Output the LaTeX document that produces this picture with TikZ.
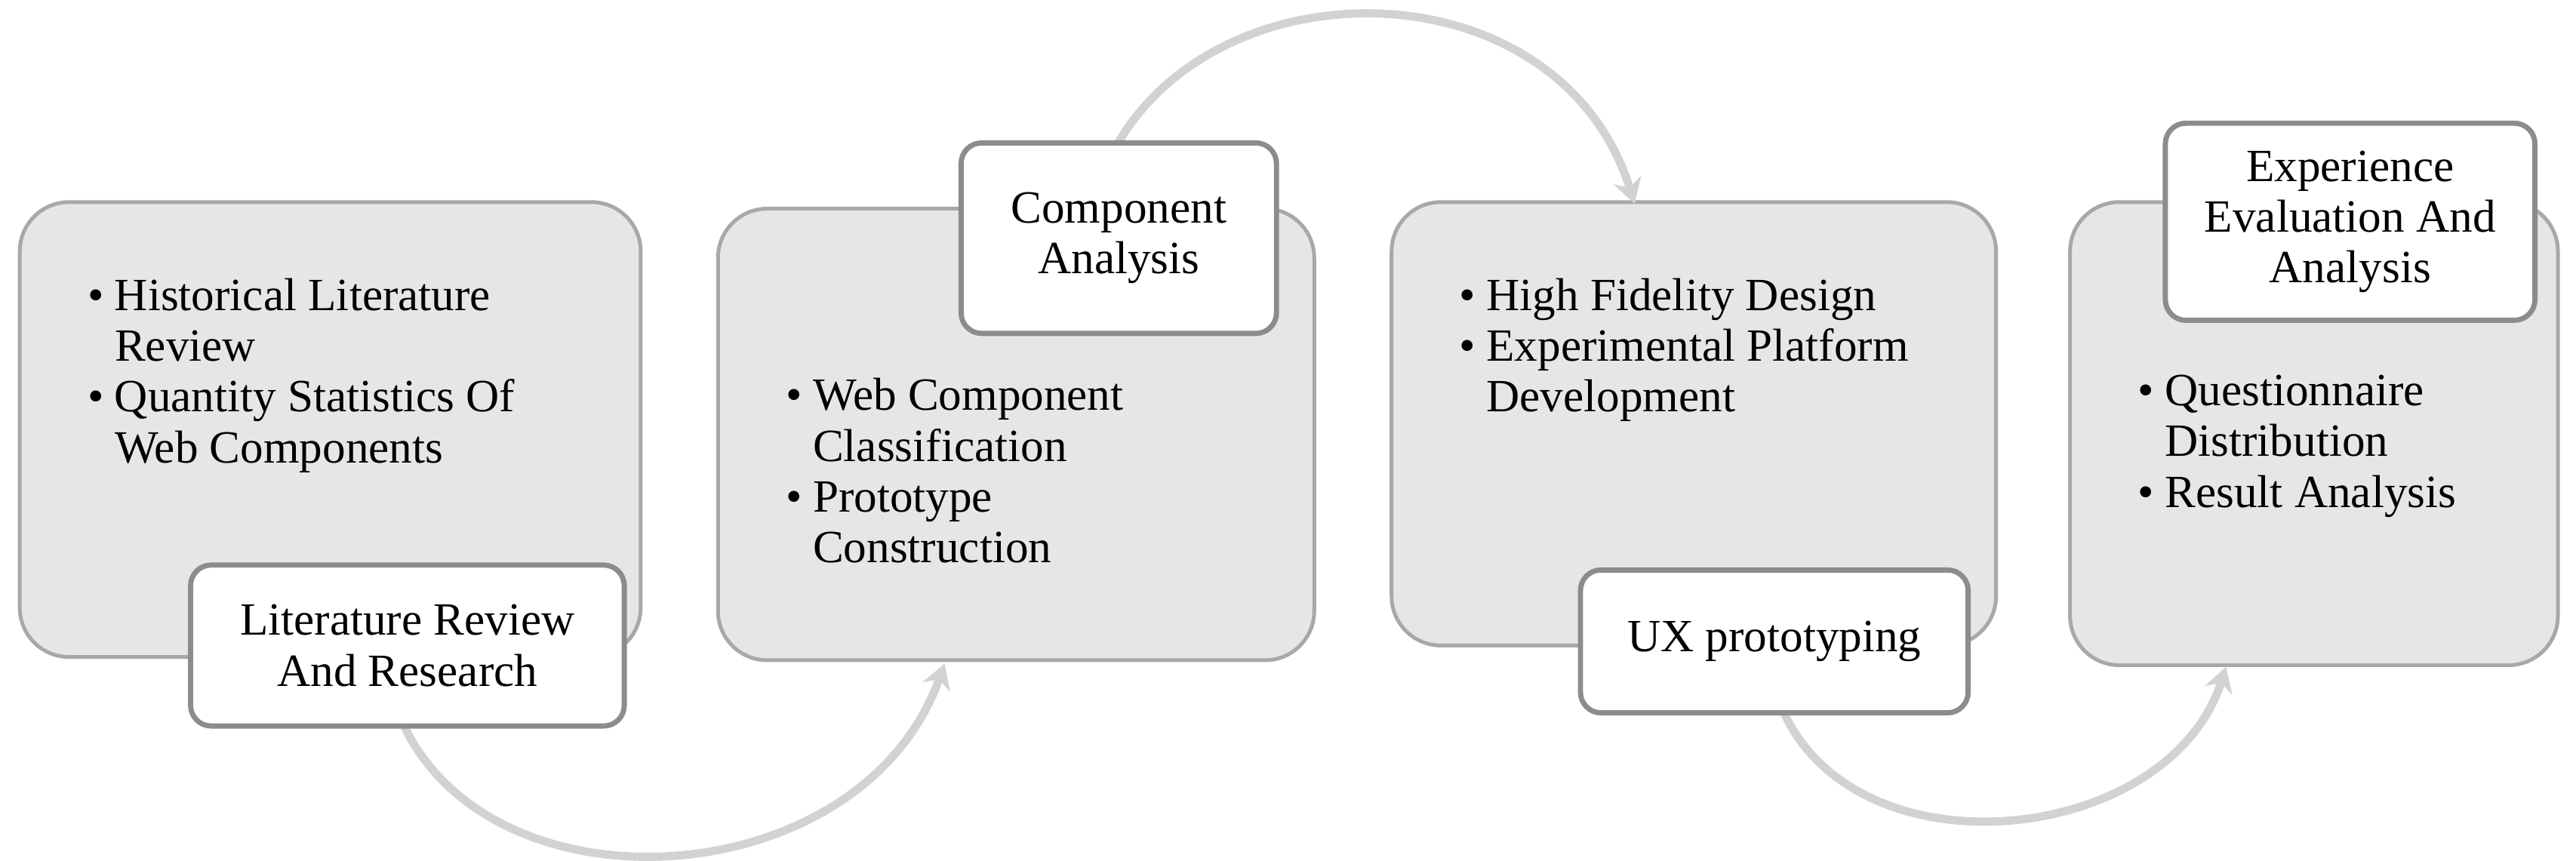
\documentclass[tikz,border=0pt]{standalone}
\usepackage{fontspec}
\setmainfont{Liberation Serif}
\usetikzlibrary{arrows.meta}
\definecolor{boxfill}{HTML}{E6E6E6}
\definecolor{boxline}{HTML}{A8A8A8}
\definecolor{labline}{HTML}{8C8C8C}
\definecolor{arc}{HTML}{D2D2D2}
\newcommand{\bul}{\makebox[0.33cm][l]{\textbullet}}
\newcommand{\ind}{\hspace*{0.33cm}}
\begin{document}
\begin{tikzpicture}[x=0.02cm,y=-0.02cm,
  big/.style={draw=boxline,line width=1.3pt,fill=boxfill,rounded corners=0.6cm,inner sep=0},
  lab/.style={draw=labline,line width=1.8pt,fill=white,rounded corners=0.25cm,inner sep=0,align=center,font=\fontsize{16}{17.6}\selectfont},
  txt/.style={anchor=north west,align=left,inner sep=0,font=\fontsize{16}{17.6}\selectfont},
  flow/.style={draw=arc,line width=0.1cm,-{Stealth[length=0.3cm,width=0.35cm]}}]
\useasboundingbox (0,0) rectangle (1568,524);
% big boxes
\node[big,minimum width=7.56cm,minimum height=5.54cm] (b1) at (201,261.5) {};
\node[big,minimum width=7.26cm,minimum height=5.5cm] (b2) at (618.5,264.5) {};
\node[big,minimum width=7.36cm,minimum height=5.4cm] (b3) at (1031,258) {};
\node[big,minimum width=5.94cm,minimum height=5.64cm] (b4) at (1408.5,264) {};
% bullet texts
\node[txt] (t1) at (53,169) {\bul Historical Literature\\\ind Review\\\bul Quantity Statistics Of\\\ind Web Components};
\node[txt] (t2) at (478,230) {\bul Web Component\\\ind Classification\\\bul Prototype\\\ind Construction};
\node[txt] (t3) at (888,169) {\bul High Fidelity Design\\\bul Experimental Platform\\\ind Development};
\node[txt] (t4) at (1301,228) {\bul Questionnaire\\\ind Distribution\\\bul Result Analysis};
% arcs
\coordinate (a1s) at (245,440); \coordinate (a1e) at (575,404);
\coordinate (a2s) at (680,88);  \coordinate (a2e) at (995,124);
\coordinate (a3s) at (1085,432); \coordinate (a3e) at (1355,406);
\draw[flow] (a1s) .. controls (300,560) and (525,545) .. (a1e);
\draw[flow] (a2s) .. controls (745,-25) and (950,-20) .. (a2e);
\draw[flow] (a3s) .. controls (1130,535) and (1320,515) .. (a3e);
% label boxes
\node[lab,minimum width=5.28cm,minimum height=1.96cm] (l1) at (248,393) {Literature Review\\And Research};
\node[lab,minimum width=3.84cm,minimum height=2.32cm] (l2) at (681,145) {Component\\Analysis};
\node[lab,minimum width=4.72cm,minimum height=1.74cm] (l3) at (1080,390.5) {UX prototyping};
\node[lab,minimum width=4.5cm,minimum height=2.4cm] (l4) at (1430.5,135) {Experience\\Evaluation And\\Analysis};
\end{tikzpicture}
\end{document}
